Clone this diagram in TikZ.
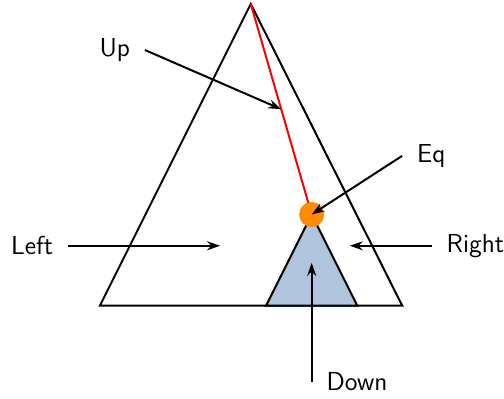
\documentclass[tikz,border=0pt]{standalone}
\usetikzlibrary{calc,arrows.meta}
\definecolor{BaseBlue}{HTML}{B0C4DE}
\definecolor{JointOrange}{HTML}{FF8C00}

\begin{document}
\begin{tikzpicture}[>={Stealth[length=6.5pt,width=4.5pt]}, line width=1pt, forcename/.style={font=\sffamily\fontsize{13}{15}\selectfont, inner sep=7pt}]
    \useasboundingbox (-1.757,-1.625) rectangle (7.100,5.369);

    % Outer triangle
    \coordinate (top) at (2.65,5.3);
    \draw (0,0) -- (5.31,0) -- (top) -- cycle;

    % Inner triangle
    \coordinate (eq) at (3.72,1.6);
    \draw[fill=BaseBlue] (2.92,0) -- (4.52,0) -- (eq) -- cycle;

    % Rod and joint
    \draw[red] (top) -- (eq);
    \fill[JointOrange] (eq) circle (0.22);

    % Arrow tips
    \coordinate (upT) at ($(top)!0.5!(eq)$);
    \coordinate (leftT) at (2.11,1.05);
    \coordinate (rightT) at (4.39,1.05);
    \coordinate (downT) at (3.72,0.75);

    % Force labels
    \node[forcename, anchor=east] (up) at (0.79,4.49) {Up};
    \node[forcename, anchor=east] (left) at (-0.56,1.05) {Left};
    \node[forcename, anchor=west] (right) at (5.83,1.05) {Right};
    \node[forcename, anchor=west] (down) at (3.72,-1.34) {Down};
    \node[forcename, anchor=west] (eqlbl) at (5.31,2.63) {Eq};

    % Force arrows
    \draw[->] (up.east) -- (upT);
    \draw[->] (left.east) -- (leftT);
    \draw[->] (right.west) -- (rightT);
    \draw[->] (down.west) -- (downT);
    \draw[->] (eqlbl.west) -- (eq);

\end{tikzpicture}
\end{document}
